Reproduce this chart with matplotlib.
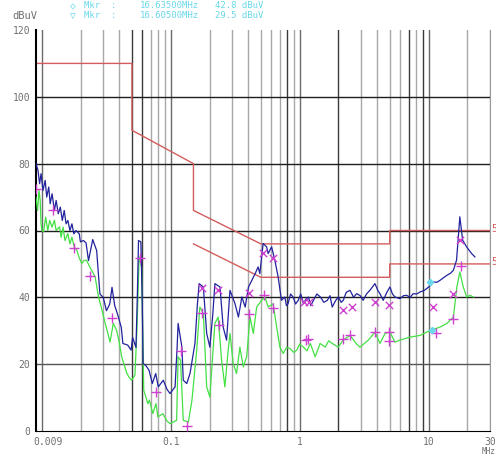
import matplotlib

matplotlib.use("Agg")
import matplotlib.pyplot as plt  # noqa: E402
import matplotlib.transforms as mtransforms  # noqa: E402

# peak trace (blue), MHz / dBuV
blue_freq = [0.0090, 0.00933, 0.0096, 0.00985, 0.0102, 0.0106, 0.0109, 0.0113, 0.0116, 0.0120,
             0.0125, 0.0129, 0.0134, 0.0139, 0.0144, 0.0149, 0.0154, 0.0159, 0.0165, 0.0171,
             0.0177, 0.0184, 0.0195, 0.0199, 0.0210, 0.0220, 0.0230, 0.0248, 0.0266, 0.0282,
             0.0299, 0.0317, 0.0336, 0.0350, 0.0367, 0.0389, 0.0413, 0.0425, 0.0464, 0.0492,
             0.0506, 0.0537, 0.0550, 0.0562, 0.0586, 0.0600, 0.0610, 0.0643, 0.0678, 0.0719,
             0.0764, 0.0800, 0.0875, 0.0934, 0.0986, 0.108, 0.112, 0.114, 0.122, 0.125,
             0.133, 0.141, 0.154, 0.161, 0.166, 0.179, 0.190, 0.201, 0.212, 0.220,
             0.241, 0.255, 0.271, 0.288, 0.315, 0.335, 0.356, 0.378, 0.401, 0.426,
             0.452, 0.476, 0.491, 0.521, 0.554, 0.570, 0.606, 0.642, 0.681, 0.723,
             0.767, 0.790, 0.813, 0.850, 0.890, 0.930, 0.975, 1.02, 1.07, 1.12,
             1.17, 1.22, 1.28, 1.36, 1.45, 1.54, 1.64, 1.72, 1.79, 1.90,
             2.00, 2.10, 2.18, 2.30, 2.46, 2.62, 2.77, 2.95, 3.11, 3.30,
             3.51, 3.84, 4.05, 4.20, 4.45, 4.75, 5.02, 5.25, 5.49, 6.0,
             6.4, 6.76, 7.2, 7.61, 8.1, 8.6, 9.2, 9.67, 10.3, 10.9,
             11.6, 12.3, 13.0, 13.9, 14.8, 15.6, 16.5, 17.5, 18.4, 19.75,
             21.6, 22.9]
blue_level = [80, 78, 74, 77, 72, 75, 70, 73, 68, 71,
              66, 69, 65, 67, 63, 66, 62, 63, 60, 62,
              59, 60, 59, 56.6, 57, 56.3, 51, 57.3, 54, 41,
              40, 36, 38, 43, 37.6, 34.6, 31, 26.2, 25.7, 24.2,
              28, 25, 40, 57, 56.6, 40, 20.2, 19.5, 18.2, 14.2,
              17.2, 13.2, 15.2, 12.5, 11.2, 13.2, 25, 32.2, 25.1, 15.2,
              14.2, 17.2, 26.2, 38, 44.1, 43.1, 29.2, 25.1, 35, 44.1,
              43.1, 31.1, 27.2, 42.1, 38.1, 34.1, 40.1, 37.1, 43.1, 45.1,
              47.1, 49.1, 47.1, 56.1, 55.1, 53.1, 55.1, 51.1, 46.1, 39.1,
              40.1, 37.5, 38.1, 41, 40.1, 38, 39.1, 41, 38.1, 39.5,
              40.1, 37.5, 39.1, 41, 40.1, 38.5, 39.1, 40.5, 37.1, 39,
              40.1, 38.5, 39.1, 41.5, 42.1, 40, 41.1, 40.5, 39.1, 41,
              42.1, 44.1, 42, 41.1, 39.1, 41.5, 43.1, 41, 40.1, 39.6,
              40.5, 40.6, 40, 41.1, 41, 41.6, 42, 42.6, 43.5, 44.6,
              44.5, 45.1, 45.8, 46.6, 47.2, 48.1, 51.1, 64.1, 57.1, 55.1,
              53.1, 52.1]

# average trace (green)
green_freq = [0.0090, 0.00925, 0.0095, 0.0097, 0.00985, 0.0100, 0.0103, 0.0107, 0.0111, 0.0115,
              0.0120, 0.0125, 0.0129, 0.0137, 0.0141, 0.0146, 0.0151, 0.0159, 0.0165, 0.0171,
              0.0178, 0.0187, 0.0194, 0.0204, 0.0212, 0.0222, 0.0235, 0.0244, 0.0259, 0.0275,
              0.0289, 0.0310, 0.0321, 0.0338, 0.0358, 0.0380, 0.0396, 0.0416, 0.0433, 0.0457,
              0.0476, 0.0497, 0.0527, 0.0546, 0.0568, 0.0594, 0.0606, 0.0617, 0.0665, 0.0683,
              0.0725, 0.0768, 0.0794, 0.0868, 0.0935, 0.0986, 0.111, 0.114, 0.119, 0.125,
              0.137, 0.146, 0.159, 0.168, 0.179, 0.190, 0.201, 0.220, 0.233, 0.248,
              0.263, 0.279, 0.288, 0.305, 0.324, 0.344, 0.365, 0.388, 0.412, 0.437,
              0.464, 0.507, 0.538, 0.570, 0.623, 0.663, 0.703, 0.746, 0.79, 0.842,
              0.90, 0.950, 1.0, 1.07, 1.14, 1.21, 1.32, 1.44, 1.58, 1.68,
              1.79, 1.99, 2.18, 2.46, 2.77, 2.94, 3.41, 3.84, 4.20, 4.60,
              5.02, 5.49, 6.0, 7.2, 8.6, 10.3, 12.3, 13.9, 15.6, 16.6,
              17.5, 18.6, 19.8, 21.0, 22.3]
green_level = [70, 66, 72, 69, 62, 60, 59.6, 64, 60, 63,
               61, 63.1, 60, 61.1, 58, 61, 57, 59.1, 56, 58,
               55.1, 54, 52, 50.1, 51, 51.1, 49.1, 48, 46.1, 40.1,
               37, 32.2, 30, 26.6, 32.2, 30.1, 27, 22.2, 20, 17.2,
               16, 15.2, 16.7, 30, 52.1, 49.1, 30, 12.2, 8.2, 9.2,
               5.2, 8.2, 4.2, 5.2, 3, 2.2, 3.2, 22.2, 21.2, 3.2,
               2.7, 9.2, 24.2, 37.1, 35.1, 13.2, 10.2, 32.2, 34.1, 21.2,
               13.2, 24.2, 29.2, 20.2, 17.2, 25.1, 19.2, 22.2, 34.1, 29.2,
               37.1, 39.1, 40.1, 37.1, 38.1, 31.1, 25.1, 23.2, 25, 24.7,
               23.5, 24.2, 26, 25.1, 24, 26.2, 22.2, 26.2, 25.1, 27,
               26.2, 25.1, 27.2, 28.6, 26, 25.1, 27.2, 29.6, 26.2, 29.2,
               29.6, 26.6, 27.2, 28.1, 28.6, 30.1, 31.1, 32.2, 34.1, 43.1,
               47.6, 43.1, 40.1, 40.6, 40.1]

# final measurement markers
qp_freq = [0.174, 0.233, 0.407, 0.522, 0.617, 1.08, 1.18, 2.18, 2.53, 3.84,
           4.96, 10.9, 15.6, 17.5]
qp_level = [42.8, 42.1, 41.4, 53.3, 51.9, 38.6, 38.6, 36.1, 37.1, 38.6,
            37.6, 37.1, 41.1, 57.1]
av_freq = [0.009, 0.0121, 0.0178, 0.0235, 0.0350, 0.058, 0.0762, 0.120, 0.133, 0.174,
           0.236, 0.405, 0.531, 0.623, 1.13, 1.16, 2.18, 2.46, 3.84, 4.96,
           4.96, 11.4, 15.6, 18.0]
av_level = [72.3, 66.1, 54.8, 46.3, 33.7, 51.9, 11.7, 23.9, 1.4, 35.3,
            31.6, 35.1, 40.8, 36.9, 27.2, 27.6, 27.6, 28.6, 29.6, 29.6,
            27.0, 29.2, 33.6, 49.3]
mkr_freq = [10.3, 10.6]
mkr_level = [44.6, 30.3]

# limit lines
qp_lim_freq = [0.009, 0.05, 0.05, 0.15, 0.15, 0.5, 5, 5, 30]
qp_lim_level = [110, 110, 90, 80, 66, 56, 56, 60, 60]
av_lim_freq = [0.15, 0.5, 5, 5, 30]
av_lim_level = [56, 46, 46, 50, 50]

x_ticks = [0.009, 0.1, 1, 10, 30]
x_labels = ["0.009", "0.1", "1", "10", "30"]
y_ticks = [0, 20, 40, 60, 80, 100, 120]

BLUE = "#22229e"
GREEN = "#44e044"
RED = "#d45c5c"
MAG = "#d040d0"
CYAN = "#6ad8ea"
TXT = "#707070"
MONO = ["DejaVu Sans Mono", "DejaVu Sans"]

fig = plt.figure(figsize=(4.96, 4.57), dpi=100)
ax = fig.add_axes([36 / 496, 1 - 431 / 457, 454 / 496, 401 / 457])
ax.set_xscale("log")
ax.set_xlim(0.009, 30)
ax.set_ylim(0, 120)

# receiver-style grid
dark = {0.05, 0.06, 0.8, 2, 7, 9}
for dec in (0.01, 0.1, 1, 10):
    for m in range(1, 10):
        f = round(dec * m, 4)
        if f > 30:
            continue
        col = "#3a3a3a" if f in dark else ("#6a6a6a" if m == 1 else "#a8a8a8")
        ax.axvline(f, color=col, lw=1.0, zorder=1)
for y in (20, 40, 60, 80, 100):
    ax.axhline(y, color="#555555" if y == 20 else "#1e1e1e", lw=1.0, zorder=1)

ax.plot(qp_lim_freq, qp_lim_level, color=RED, lw=1.0, zorder=2)
ax.plot(av_lim_freq, av_lim_level, color=RED, lw=1.0, zorder=2)
ax.plot(green_freq, green_level, color=GREEN, lw=0.9, zorder=3)
ax.plot(blue_freq, blue_level, color=BLUE, lw=0.9, zorder=4)
ax.scatter(av_freq, av_level, marker="+", s=45, color=MAG, linewidths=1.0, zorder=5)
ax.scatter(qp_freq, qp_level, marker="x", s=28, color=MAG, linewidths=1.0, zorder=5)
ax.scatter(mkr_freq, mkr_level, marker="D", s=10, color=CYAN, zorder=6)

ax.spines["top"].set_visible(False)
ax.spines["left"].set_color("black")
ax.spines["left"].set_linewidth(1.5)
ax.spines["bottom"].set_color("black")
ax.spines["right"].set_color("#999999")

ax.minorticks_off()
ax.set_xticks([])
ax.set_yticks(y_ticks)
ax.set_yticklabels([str(v) for v in y_ticks], fontsize=7, color=TXT, family=MONO)
ax.tick_params(axis="y", length=0, pad=4)

tr = mtransforms.blended_transform_factory(ax.transData, ax.transAxes)
for f, lab in zip(x_ticks, x_labels):
    ha = "left" if lab == "0.009" else "center"
    xf = f * 0.95 if lab == "0.009" else f
    ax.text(xf, -0.015, lab, transform=tr, ha=ha, va="top", fontsize=7,
            color=TXT, family=MONO)
fig.text(495 / 496, 1 - 452 / 457, "MHz", ha="right", va="center", fontsize=5.5,
         color=TXT, family=MONO)

tr2 = mtransforms.blended_transform_factory(ax.transAxes, ax.transData)
for v in (60, 50):
    ax.text(1.003, v + 0.5, "5", transform=tr2, ha="left", va="center",
            fontsize=7, color=RED, family=MONO)

fig.text(12 / 496, 1 - 16 / 457, "dBuV", fontsize=7.5, color=TXT, family=MONO,
         ha="left", va="center")
for row, (sym, freq, lvl) in enumerate([("\u25c7", "16.63500MHz", "42.8 dBuV"),
                                        ("\u25bd", "16.60500MHz", "29.5 dBuV")]):
    yy = 1 - (6 + 10 * row) / 457
    fig.text(70 / 496, yy, sym, fontsize=7, color=CYAN, family=MONO, va="center")
    fig.text(84 / 496, yy, "Mkr  :", fontsize=6.5, color=CYAN, family=MONO, va="center")
    fig.text(140 / 496, yy, freq, fontsize=6.5, color=CYAN, family=MONO, va="center")
    fig.text(215 / 496, yy, lvl, fontsize=6.5, color=CYAN, family=MONO, va="center")

fig.savefig("out.png", dpi=100, facecolor="white")
